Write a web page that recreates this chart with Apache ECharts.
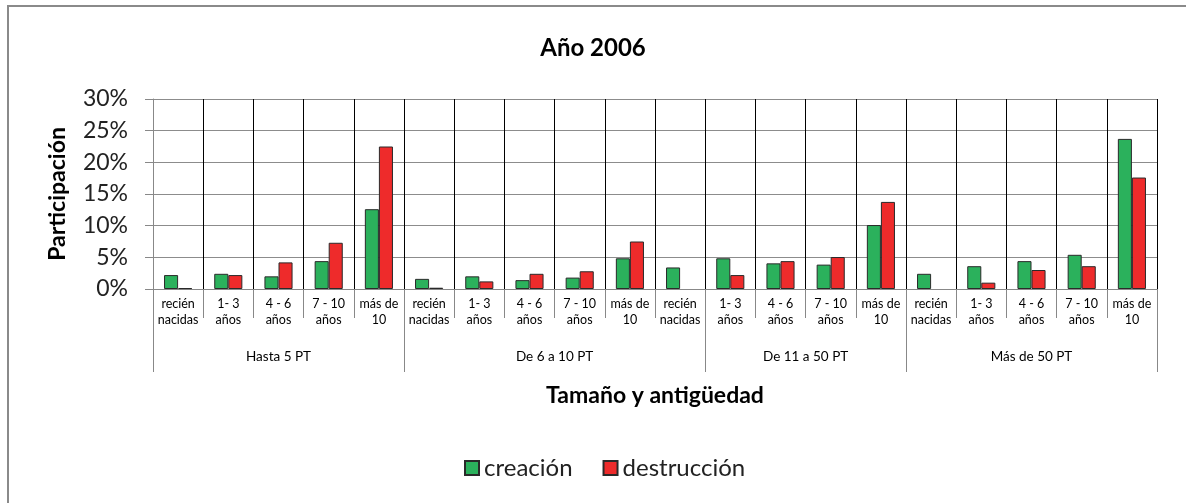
<!DOCTYPE html>
<html>
<head>
<meta charset="utf-8">
<script src="https://cdn.jsdelivr.net/npm/echarts@6/dist/echarts.min.js"></script>
<style>
  html, body { margin: 0; padding: 0; background: #fff; }
  #frame { position: absolute; left: 7px; top: 5px; width: 1300px; height: 600px; border: 2px solid #8a8a8a; }
  #chart { position: absolute; left: 0; top: 0; width: 1186px; height: 503px; }
</style>
</head>
<body>
<div id="frame"></div>
<div id="chart"></div>
<script>
// etiquetas de antigüedad (una por barra)
const categories = [
  'recién\nnacidas', '1- 3\naños', '4 - 6\naños', '7 - 10\naños', 'más de\n10',
  'recién\nnacidas', '1- 3\naños', '4 - 6\naños', '7 - 10\naños', 'más de\n10',
  'recién\nnacidas', '1- 3\naños', '4 - 6\naños', '7 - 10\naños', 'más de\n10',
  'recién\nnacidas', '1- 3\naños', '4 - 6\naños', '7 - 10\naños', 'más de\n10'
]
// grupos de tamaño y cuantas categorias abarca cada uno (como en el original)
const groups = ['Hasta 5 PT', 'De 6 a 10 PT', 'De 11 a 50 PT', 'Más de 50 PT']
const groupSizes = [5, 6, 4, 5]

const creacion = [2.2, 2.4, 2.0, 4.4, 12.6, 1.6, 2.0, 1.4, 1.8, 4.85, 3.4, 4.85, 4.05, 3.85, 10.1, 2.4, 3.6, 4.4, 5.4, 23.7]
const destruccion = [0.15, 2.2, 4.2, 7.3, 22.5, 0.2, 1.2, 2.4, 2.8, 7.5, null, 2.2, 4.4, 5.05, 13.75, null, 1.0, 3.0, 3.6, 17.6]

const yTicks = [0, 5, 10, 15, 20, 25, 30]

// limites y centros de los grupos sobre el eje de posiciones 0..20
const bounds = [0]
groupSizes.forEach(n => bounds.push(bounds[bounds.length - 1] + n))
const centers = groups.map((g, i) => (bounds[i] + bounds[i + 1]) / 2)

const font = 'Lato, "Open Sans", sans-serif'

const chart = echarts.init(document.getElementById('chart'))
chart.setOption({
  animation: false,
  backgroundColor: 'transparent',
  textStyle: { fontFamily: font },
  title: {
    text: 'Año 2006',
    left: 'center',
    top: 31,
    textStyle: { fontSize: 24, fontWeight: 'bold', color: '#000', fontFamily: font }
  },
  legend: {
    left: 459,
    top: 451,
    itemWidth: 14,
    itemHeight: 14,
    itemGap: 30,
    icon: 'rect',
    textStyle: { fontSize: 24, color: '#222', fontFamily: font },
    data: ['creación', 'destrucción']
  },
  grid: { left: 153, right: 29, top: 99, bottom: 214 },
  xAxis: [
    {
      type: 'category',
      data: categories,
      position: 'bottom',
      name: 'Tamaño y antigüedad',
      nameLocation: 'middle',
      nameGap: 95,
      nameTextStyle: { fontSize: 23, fontWeight: 'bold', color: '#000', fontFamily: font },
      axisLine: { lineStyle: { color: '#888', width: 1 } },
      axisTick: { show: true, interval: 0, length: 29, lineStyle: { color: '#888' } },
      axisLabel: { interval: 0, margin: 7, fontSize: 12.5, lineHeight: 16, color: '#000', fontFamily: font },
      splitLine: { show: true, interval: 0, lineStyle: { color: '#000', width: 1 } }
    },
    {
      type: 'value',
      min: 0,
      max: categories.length,
      position: 'bottom',
      offset: 0,
      axisLine: { show: false },
      axisTick: { show: true, customValues: bounds, length: 83, lineStyle: { color: '#888' } },
      axisLabel: {
        customValues: centers,
        margin: 61,
        fontSize: 13.5,
        color: '#000',
        fontFamily: font,
        formatter: v => groups[centers.indexOf(v)] || ''
      },
      splitLine: { show: false }
    }
  ],
  yAxis: {
    type: 'value',
    min: yTicks[0],
    max: yTicks[yTicks.length - 1],
    interval: 5,
    name: 'Participación',
    nameLocation: 'middle',
    nameGap: 84,
    nameTextStyle: { fontSize: 23, fontWeight: 'bold', color: '#000', fontFamily: font },
    axisLine: { show: true, lineStyle: { color: '#888' } },
    axisTick: { show: true, length: 8, lineStyle: { color: '#888' } },
    axisLabel: { margin: 25, fontSize: 23, color: '#222', fontFamily: font, formatter: v => v + '%' },
    splitLine: { show: true, lineStyle: { color: '#8c8c8c', width: 1 } }
  },
  series: [
    {
      name: 'creación',
      type: 'bar',
      data: creacion,
      barGap: '0%',
      barCategoryGap: '44%',
      itemStyle: { color: '#2bb15c', borderColor: '#2a2a2a', borderWidth: 1 }
    },
    {
      name: 'destrucción',
      type: 'bar',
      data: destruccion,
      itemStyle: { color: '#ee2b2b', borderColor: '#2a2a2a', borderWidth: 1 }
    }
  ]
})
</script>
</body>
</html>
